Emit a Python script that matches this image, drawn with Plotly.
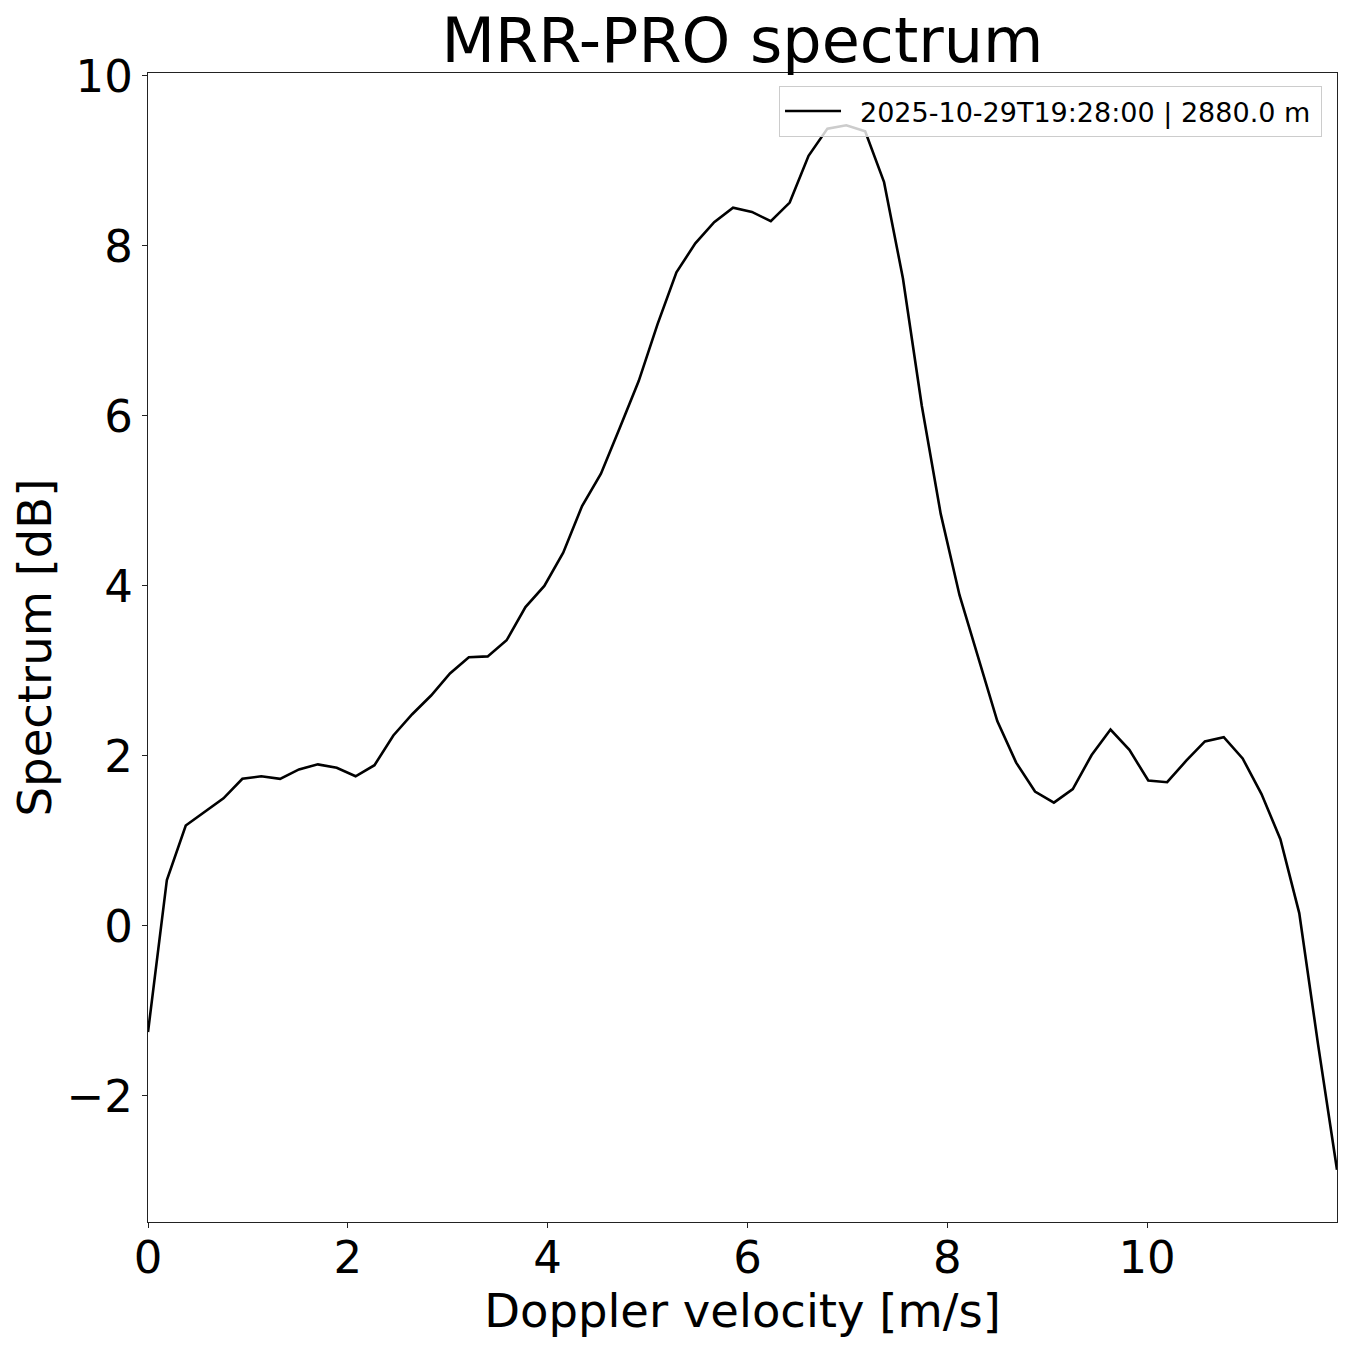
import plotly.graph_objects as go

velocity = [0.0, 0.1889, 0.3778, 0.5667, 0.7556, 0.9445, 1.1334, 1.3223, 1.5112, 1.7001,
            1.889, 2.0779, 2.2668, 2.4557, 2.6446, 2.8335, 3.0224, 3.2113, 3.4002, 3.5891,
            3.778, 3.9669, 4.1558, 4.3447, 4.5336, 4.7225, 4.9114, 5.1003, 5.2892, 5.4781,
            5.667, 5.8559, 6.0448, 6.2337, 6.4226, 6.6115, 6.8004, 6.9893, 7.1782, 7.3671,
            7.556, 7.7449, 7.9338, 8.1227, 8.3116, 8.5005, 8.6894, 8.8783, 9.0672, 9.2561,
            9.445, 9.6339, 9.8228, 10.0117, 10.2006, 10.3895, 10.5784, 10.7673, 10.9562, 11.1451,
            11.334, 11.5229, 11.7118, 11.9007]

spectrum_db = [-1.25, 0.54, 1.18, 1.34, 1.50, 1.73, 1.76, 1.73, 1.84, 1.90,
               1.86, 1.76, 1.89, 2.24, 2.49, 2.71, 2.97, 3.16, 3.17, 3.36,
               3.75, 4.00, 4.39, 4.94, 5.32, 5.86, 6.41, 7.08, 7.69, 8.03,
               8.28, 8.45, 8.40, 8.29, 8.51, 9.06, 9.38, 9.42, 9.35, 8.75,
               7.62, 6.12, 4.85, 3.89, 3.15, 2.41, 1.92, 1.58, 1.45, 1.61,
               2.01, 2.31, 2.07, 1.71, 1.69, 1.94, 2.17, 2.22, 1.97, 1.55,
               1.02, 0.15, -1.40, -2.87]

series_label = "2025-10-29T19:28:00 | 2880.0 m"
title_text = "MRR-PRO spectrum"
x_label = "Doppler velocity [m/s]"
y_label = "Spectrum [dB]"
x_ticks = [0, 2, 4, 6, 8, 10]
y_ticks = [-2, 0, 2, 4, 6, 8, 10]

FONT = "DejaVu Sans"

ymin, ymax = min(spectrum_db), max(spectrum_db)
pad = 0.05 * (ymax - ymin)

fig = go.Figure()
fig.add_trace(go.Scatter(
    x=velocity, y=spectrum_db, mode="lines",
    name="\u00a0\u2009" + series_label + "\u2009",
    line=dict(color="black", width=2.6), showlegend=True,
))

fig.update_layout(
    width=1350, height=1349,
    margin=dict(l=148, r=13, t=73, b=127),
    paper_bgcolor="white", plot_bgcolor="white",
    font=dict(family=FONT, color="black"),
    title=dict(text=title_text, x=0.5, xref="paper", xanchor="center",
               y=1 - 40 / 1349, yref="container", yanchor="middle",
               font=dict(size=62, family=FONT, color="black")),
    showlegend=True,
    legend=dict(x=0.9874, y=0.9887, xanchor="right", yanchor="top",
                bgcolor="rgba(255,255,255,0.8)", bordercolor="#cccccc", borderwidth=1,
                font=dict(size=27, family=FONT, color="black"), itemwidth=56),
)

fig.update_xaxes(
    range=[velocity[0], velocity[-1]], tickvals=x_ticks,
    showgrid=False, zeroline=False,
    showline=True, linecolor="#222222", linewidth=1.3, mirror=True,
    ticks="outside", ticklen=5, tickwidth=1.3, tickcolor="#222222",
    tickfont=dict(size=45, family=FONT, color="black"), ticklabelstandoff=-9,
    title=dict(text=x_label, font=dict(size=46.5, family=FONT, color="black"), standoff=2),
)
fig.update_yaxes(
    range=[ymin - pad, ymax + pad], tickvals=y_ticks,
    showgrid=False, zeroline=False,
    showline=True, linecolor="#222222", linewidth=1.3, mirror=True,
    ticks="outside", ticklen=5, tickwidth=1.3, tickcolor="#222222",
    tickfont=dict(size=45, family=FONT, color="black"),
    title=dict(text=y_label, font=dict(size=46.5, family=FONT, color="black"), standoff=0),
)

fig.write_html("out.html")
